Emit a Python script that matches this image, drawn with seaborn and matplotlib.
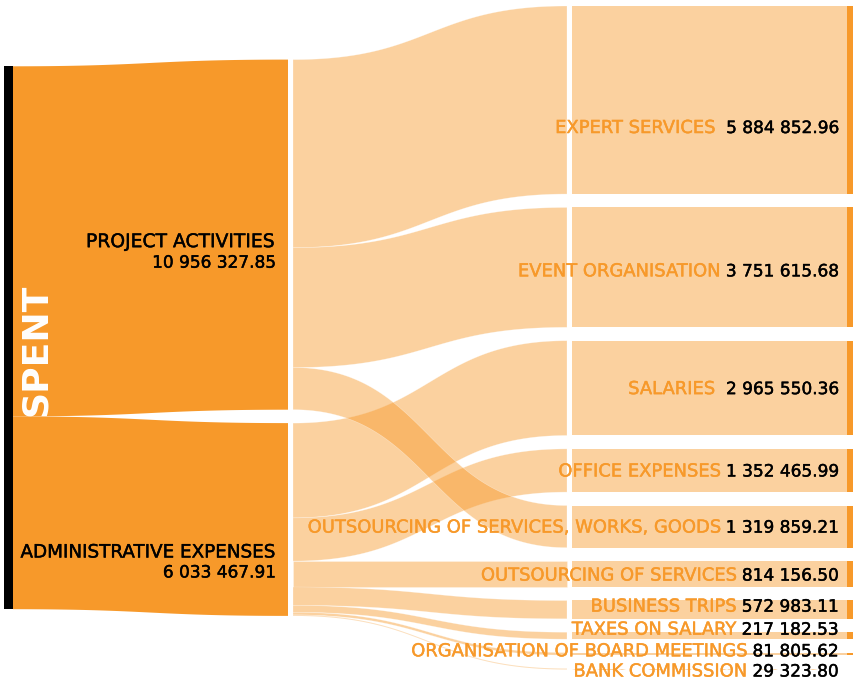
import numpy as np
import matplotlib
matplotlib.use("Agg")
import matplotlib.pyplot as plt
import matplotlib.patheffects as pe
import seaborn as sns
from matplotlib.patches import Rectangle, Polygon

# ---------------- data ----------------
source_label = "SPENT"
group_names = ["PROJECT ACTIVITIES", "ADMINISTRATIVE EXPENSES"]
group_values = [10956327.85, 6033467.91]
categories = [
    "EXPERT SERVICES",
    "EVENT ORGANISATION",
    "SALARIES",
    "OFFICE EXPENSES",
    "OUTSOURCING OF SERVICES, WORKS, GOODS",
    "OUTSOURCING OF SERVICES",
    "BUSINESS TRIPS",
    "TAXES ON SALARY",
    "ORGANISATION OF BOARD MEETINGS",
    "BANK COMMISSION",
]
category_values = [5884852.96, 3751615.68, 2965550.36, 1352465.99, 1319859.21,
                   814156.50, 572983.11, 217182.53, 81805.62, 29323.80]
category_group = [0, 0, 1, 1, 0, 1, 1, 1, 1, 1]

# ---------------- style / layout ----------------
sns.set_theme(style="white")
plt.rcParams["font.family"] = ["DejaVu Sans"]

ORANGE = "#F7992A"
LINK_ALPHA = 0.45
W, H = 857, 682
TOP, BOTTOM = 6.0, 669.5
GAP = 13.4
COLS = [(4, 13), (288, 293), (567, 572), (847, 853)]
LABEL_X = 838
GROUP_LABEL_X = 275
cat_label_offsets = [28, 4, 1, 1, 1, 1.5, -3, -6, -2.5, 2.5]
name_gaps = [8, 4, 8, 4, 4, 4, 4, 4, 4, 4]
group_name_offsets = [7, 33]
group_value_offsets = [28, 53]

NAME_SIZE = 12.9
VALUE_SIZE = 12.2
GROUP_NAME_SIZES = [13.5, 13.2]
GROUP_VALUE_SIZE = 12.2


def weight(color):
    return [pe.withStroke(linewidth=0.3, foreground=color)]


total = sum(category_values)
k = (BOTTOM - TOP - GAP * (len(categories) - 1)) / total
CENTER = (TOP + BOTTOM) / 2


def stack(values):
    hs = [v * k for v in values]
    span = sum(hs) + GAP * (len(hs) - 1)
    y = CENTER - span / 2
    out = []
    for h in hs:
        out.append((y, y + h))
        y += h + GAP
    return out


def fmt(v):
    return f"{v:,.2f}".replace(",", " ")


def band(ax, x0, x1, a0, b0, a1, b1, **kw):
    t = np.linspace(0, 1, 80)
    xm = (x0 + x1) / 2
    bx = (1 - t) ** 3 * x0 + 3 * (1 - t) ** 2 * t * xm + 3 * (1 - t) * t ** 2 * xm + t ** 3 * x1
    def by(y0, y1):
        return (1 - t) ** 3 * y0 + 3 * (1 - t) ** 2 * t * y0 + 3 * (1 - t) * t ** 2 * y1 + t ** 3 * y1
    top = by(a0, a1)
    bot = by(b0, b1)
    xs = np.concatenate([bx, bx[::-1]])
    ys = np.concatenate([top, bot[::-1]])
    ax.add_patch(Polygon(np.column_stack([xs, ys]), closed=True, **kw))


fig = plt.figure(figsize=(W / 100, H / 100), dpi=100)
ax = fig.add_axes([0, 0, 1, 1])
ax.set_xlim(0, W)
ax.set_ylim(H, 0)
ax.axis("off")

spent_pos = stack([total])[0]
group_pos = stack(group_values)
cat_pos = stack(category_values)

# SPENT -> groups (solid orange)
y = spent_pos[0]
for gi, gv in enumerate(group_values):
    h = gv * k
    band(ax, COLS[0][1], COLS[1][0], y, y + h, group_pos[gi][0], group_pos[gi][1],
         facecolor=ORANGE, edgecolor="none", zorder=1)
    y += h

# groups -> categories (translucent)
offs = [gp[0] for gp in group_pos]
for ci, cv in enumerate(category_values):
    g = category_group[ci]
    h = cv * k
    band(ax, COLS[1][1], COLS[2][0], offs[g], offs[g] + h, cat_pos[ci][0], cat_pos[ci][1],
         facecolor=ORANGE, alpha=LINK_ALPHA, edgecolor="white", linewidth=0.4, zorder=2)
    offs[g] += h

# categories -> categories (straight translucent bands)
for ci in range(len(categories)):
    band(ax, COLS[2][1], COLS[3][0], cat_pos[ci][0], cat_pos[ci][1], cat_pos[ci][0], cat_pos[ci][1],
         facecolor=ORANGE, alpha=LINK_ALPHA, edgecolor="none", zorder=2)

# nodes
ax.add_patch(Rectangle((COLS[0][0], spent_pos[0]), COLS[0][1] - COLS[0][0],
                       spent_pos[1] - spent_pos[0], facecolor="black", edgecolor="none", zorder=3))
for ci in range(len(categories)):
    y0, y1 = cat_pos[ci]
    ax.add_patch(Rectangle((COLS[3][0], y0), COLS[3][1] - COLS[3][0], max(y1 - y0, 0.8),
                           facecolor=ORANGE, edgecolor="none", zorder=3))

# labels
ax.text(36, spent_pos[0] + (spent_pos[1] - spent_pos[0]) * 0.645, source_label, rotation=90,
        ha="center", va="bottom", color="white", fontsize=26, fontweight="bold", zorder=5)

for gi, gname in enumerate(group_names):
    cy = (group_pos[gi][0] + group_pos[gi][1]) / 2
    ax.text(GROUP_LABEL_X, cy + group_name_offsets[gi], gname, ha="right", va="center",
            color="black", fontsize=GROUP_NAME_SIZES[gi], zorder=5, path_effects=weight("black"))
    ax.text(GROUP_LABEL_X, cy + group_value_offsets[gi], fmt(group_values[gi]), ha="right",
            va="center", color="black", fontsize=GROUP_VALUE_SIZE, zorder=5,
            path_effects=weight("black"))

for ci, cname in enumerate(categories):
    cy = (cat_pos[ci][0] + cat_pos[ci][1]) / 2 + cat_label_offsets[ci]
    vt = ax.text(LABEL_X, cy, fmt(category_values[ci]), ha="right", va="center",
                 color="black", fontsize=VALUE_SIZE, zorder=5, path_effects=weight("black"))
    ax.annotate(cname, xy=(0, 0.5), xycoords=vt, xytext=(-name_gaps[ci], 0),
                textcoords="offset points", ha="right", va="center", color=ORANGE,
                fontsize=NAME_SIZE, zorder=5, path_effects=weight(ORANGE))

fig.savefig("out.png", dpi=100)
